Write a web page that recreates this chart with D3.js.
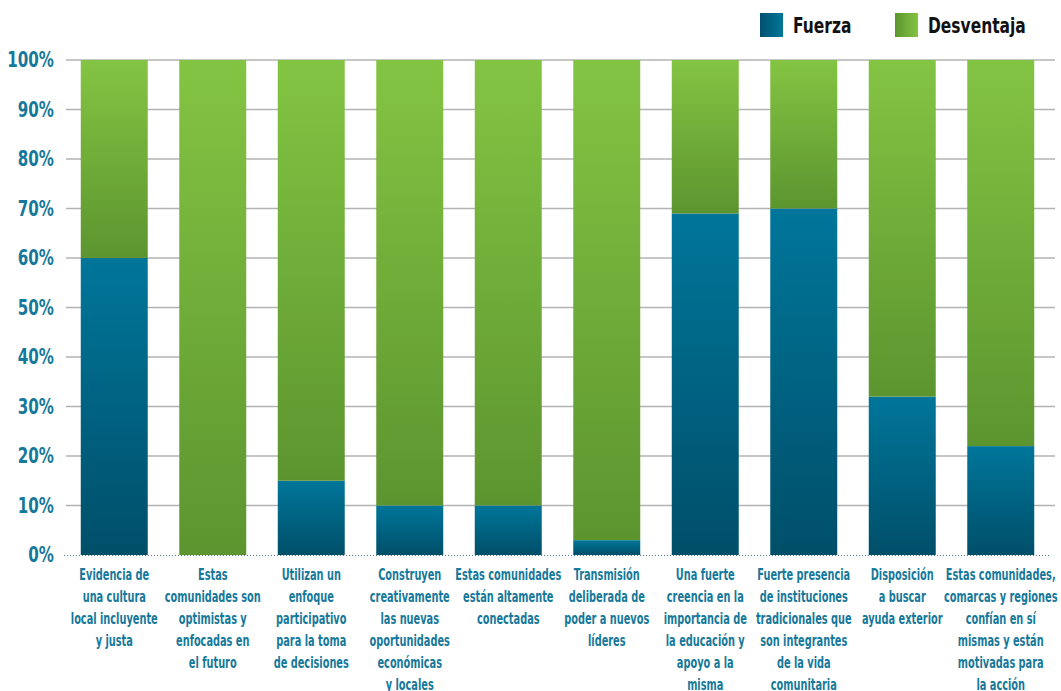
<!DOCTYPE html>
<html lang="es">
<head>
<meta charset="UTF-8">
<title>Fuerza y Desventaja</title>
<style>
    body { margin: 0; background: #fff; }
    svg text { font-family: "Liberation Sans Narrow", "DejaVu Sans Condensed", "Liberation Sans", sans-serif; font-weight: bold; }
</style>
</head>
<body>
<svg id="chart" width="1061" height="691"></svg>
<script src="https://cdn.jsdelivr.net/npm/d3@7"></script>
<script>
    // data
    const categories = [
        ["Evidencia de", "una cultura", "local incluyente", "y justa"],
        ["Estas", "comunidades son", "optimistas y", "enfocadas en", "el futuro"],
        ["Utilizan un", "enfoque", "participativo", "para la toma", "de decisiones"],
        ["Construyen", "creativamente", "las nuevas", "oportunidades", "económicas", "y locales"],
        ["Estas comunidades", "están altamente", "conectadas"],
        ["Transmisión", "deliberada de", "poder a nuevos", "líderes"],
        ["Una fuerte", "creencia en la", "importancia de", "la educación y", "apoyo a la", "misma"],
        ["Fuerte presencia", "de instituciones", "tradicionales que", "son integrantes", "de la vida", "comunitaria"],
        ["Disposición", "a buscar", "ayuda exterior"],
        ["Estas comunidades,", "comarcas y regiones", "confían en sí", "mismas y están", "motivadas para", "la acción"]
    ];
    const fuerza     = [60, 0, 15, 10, 10, 3, 69, 70, 32, 22];
    const desventaja = [40, 100, 85, 90, 90, 97, 31, 30, 68, 78];
    const seriesNames = ["Fuerza", "Desventaja"];
    const yTicks = [0, 10, 20, 30, 40, 50, 60, 70, 80, 90, 100];

    const svg = d3.select("#chart");
    const labelColor = "#16789a";

    const x = d3.scaleBand().domain(d3.range(categories.length)).range([65, 1050]).paddingInner(0.32).paddingOuter(0.16);
    const y = d3.scaleLinear().domain([0, 100]).range([555, 60]);

    // gradients (light on top, dark at bottom for bars; dark left to light right for legend)
    const defs = svg.append("defs");
    function grad(id, from, to, horiz) {
        const g = defs.append("linearGradient").attr("id", id)
            .attr("x1", 0).attr("y1", 0).attr("x2", horiz ? 1 : 0).attr("y2", horiz ? 0 : 1);
        g.append("stop").attr("offset", "0%").attr("stop-color", from);
        g.append("stop").attr("offset", "100%").attr("stop-color", to);
    }
    grad("gBlue", "#00769a", "#004f69", false);
    grad("gGreen", "#84c443", "#5c952f", false);
    grad("lBlue", "#005070", "#00789a", true);
    grad("lGreen", "#5c952f", "#84c443", true);

    // gridlines
    svg.append("g").selectAll("line")
        .data(yTicks.filter(d => d > 0))
        .join("line")
        .attr("x1", 66).attr("x2", 1055)
        .attr("y1", d => y(d)).attr("y2", d => y(d))
        .attr("stroke", "#b3b3b3").attr("stroke-width", 1.5);

    // y tick labels (font is wider than the original condensed face, so squeeze it)
    svg.append("g").selectAll("text")
        .data(yTicks)
        .join("text")
        .attr("transform", d => `translate(54,${y(d) + 7}) scale(0.8,1)`)
        .attr("text-anchor", "end")
        .attr("font-size", 21)
        .attr("fill", labelColor)
        .text(d => d + "%");

    // stacked bars
    const rows = categories.map((c, i) => ({ i: i, Fuerza: fuerza[i], Desventaja: desventaja[i] }));
    const stacked = d3.stack().keys(seriesNames)(rows);
    const fills = { Fuerza: "url(#gBlue)", Desventaja: "url(#gGreen)" };

    svg.append("g").selectAll("g")
        .data(stacked)
        .join("g")
        .attr("fill", s => fills[s.key])
        .selectAll("rect")
        .data(s => s.filter(d => d[1] - d[0] > 0))
        .join("rect")
        .attr("x", d => x(d.data.i))
        .attr("width", x.bandwidth())
        .attr("y", d => y(d[1]))
        .attr("height", d => y(d[0]) - y(d[1]));

    // dotted baseline
    svg.append("line")
        .attr("x1", 64).attr("x2", 1050)
        .attr("y1", y(0) + 0.5).attr("y2", y(0) + 0.5)
        .attr("stroke", "#4d7b94").attr("stroke-width", 1)
        .attr("stroke-dasharray", "1,2");

    // category labels
    const cat = svg.append("g").selectAll("g")
        .data(categories)
        .join("g")
        .attr("transform", (d, i) => `translate(${x(i) + x.bandwidth() / 2},580) scale(0.68,1)`);
    cat.append("text")
        .attr("text-anchor", "middle")
        .attr("font-size", 16)
        .attr("fill", labelColor)
        .selectAll("tspan")
        .data(d => d)
        .join("tspan")
        .attr("x", 0)
        .attr("y", (d, j) => j * 22)
        .text(d => d);

    // legend
    const legendX = [760, 895];
    const leg = svg.append("g").selectAll("g")
        .data(seriesNames)
        .join("g")
        .attr("transform", (d, i) => `translate(${legendX[i]},13)`);
    leg.append("rect")
        .attr("width", 23).attr("height", 24)
        .attr("fill", (d, i) => i === 0 ? "url(#lBlue)" : "url(#lGreen)");
    leg.append("text")
        .attr("transform", "translate(33,20) scale(0.82,1)")
        .attr("font-size", 21)
        .attr("fill", "#111")
        .text(d => d);
</script>
</body>
</html>
